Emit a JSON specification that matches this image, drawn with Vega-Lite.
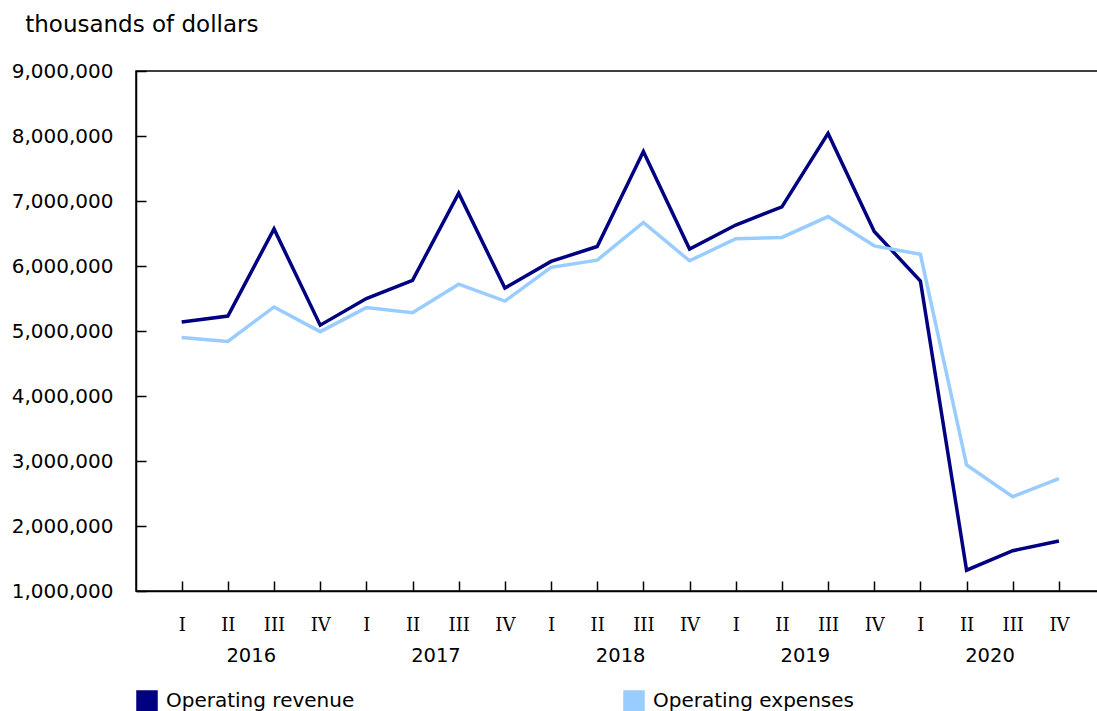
{
  "$schema": "https://vega.github.io/schema/vega-lite/v6.json",
  "width": 962,
  "height": 520,
  "padding": {"left": 11, "top": 14, "right": 0, "bottom": 0},
  "background": "white",
  "config": {
    "font": "DejaVu Sans",
    "view": {"stroke": "#000000", "strokeWidth": 1.5},
    "axis": {"labelColor": "#000000", "domainColor": "#000000", "tickColor": "#000000", "domainWidth": 1.5, "tickWidth": 1.5, "grid": false, "title": null}
  },
  "title": {
    "text": "thousands of dollars",
    "anchor": "start",
    "frame": "bounds",
    "fontSize": 23,
    "fontWeight": "normal",
    "color": "#000000",
    "dx": 14,
    "offset": 24
  },
  "data": {
    "values": [
      {"period": "2016 I", "year": "2016", "Operating revenue": 5140000, "Operating expenses": 4900000},
      {"period": "2016 II", "year": "2016", "Operating revenue": 5230000, "Operating expenses": 4840000},
      {"period": "2016 III", "year": "2016", "Operating revenue": 6570000, "Operating expenses": 5370000},
      {"period": "2016 IV", "year": "2016", "Operating revenue": 5090000, "Operating expenses": 4990000},
      {"period": "2017 I", "year": "2017", "Operating revenue": 5500000, "Operating expenses": 5360000},
      {"period": "2017 II", "year": "2017", "Operating revenue": 5780000, "Operating expenses": 5280000},
      {"period": "2017 III", "year": "2017", "Operating revenue": 7120000, "Operating expenses": 5720000},
      {"period": "2017 IV", "year": "2017", "Operating revenue": 5660000, "Operating expenses": 5460000},
      {"period": "2018 I", "year": "2018", "Operating revenue": 6070000, "Operating expenses": 5980000},
      {"period": "2018 II", "year": "2018", "Operating revenue": 6300000, "Operating expenses": 6090000},
      {"period": "2018 III", "year": "2018", "Operating revenue": 7760000, "Operating expenses": 6670000},
      {"period": "2018 IV", "year": "2018", "Operating revenue": 6260000, "Operating expenses": 6080000},
      {"period": "2019 I", "year": "2019", "Operating revenue": 6630000, "Operating expenses": 6420000},
      {"period": "2019 II", "year": "2019", "Operating revenue": 6910000, "Operating expenses": 6440000},
      {"period": "2019 III", "year": "2019", "Operating revenue": 8040000, "Operating expenses": 6760000},
      {"period": "2019 IV", "year": "2019", "Operating revenue": 6530000, "Operating expenses": 6310000},
      {"period": "2020 I", "year": "2020", "Operating revenue": 5770000, "Operating expenses": 6180000},
      {"period": "2020 II", "year": "2020", "Operating revenue": 1320000, "Operating expenses": 2940000},
      {"period": "2020 III", "year": "2020", "Operating revenue": 1620000, "Operating expenses": 2450000},
      {"period": "2020 IV", "year": "2020", "Operating revenue": 1770000, "Operating expenses": 2730000}
    ]
  },
  "layer": [
    {
      "transform": [{"fold": ["Operating revenue", "Operating expenses"], "as": ["series", "value"]}],
      "mark": {"type": "line", "strokeWidth": 3.5, "strokeJoin": "miter"},
      "encoding": {
        "x": {
          "field": "period",
          "type": "ordinal",
          "sort": null,
          "scale": {"type": "point", "padding": 0.918, "align": 0.539},
          "axis": {
            "orient": "bottom",
            "labelAngle": 0,
            "labelExpr": "split(datum.value, ' ')[1]",
            "labelFont": "DejaVu Serif",
            "labelFontSize": 18,
            "tickSize": -10,
            "labelPadding": 35
          }
        },
        "y": {
          "field": "value",
          "type": "quantitative",
          "scale": {"domain": [1000000, 9000000], "nice": false, "zero": false},
          "axis": {
            "values": [1000000, 2000000, 3000000, 4000000, 5000000, 6000000, 7000000, 8000000, 9000000],
            "format": ",d",
            "labelFontSize": 20,
            "tickSize": -10,
            "labelPadding": 33
          }
        },
        "color": {
          "field": "series",
          "type": "nominal",
          "scale": {"domain": ["Operating revenue", "Operating expenses"], "range": ["#000080", "#99ccff"]},
          "legend": {
            "title": null,
            "orient": "none",
            "legendX": 0,
            "legendY": 619,
            "direction": "horizontal",
            "symbolType": "square",
            "symbolSize": 400,
            "symbolStrokeWidth": 1.5,
            "symbolStrokeColor": "#000000",
            "labelFontSize": 20,
            "labelColor": "#000000",
            "labelOffset": 8,
            "columnPadding": 266,
            "labelLimit": 400,
            "encode": {
              "symbols": {"update": {"fill": {"scale": "color", "field": "value"}, "stroke": {"value": "#000000"}, "strokeWidth": {"value": 1.5}, "opacity": {"value": 1}}}
            }
          }
        }
      }
    },
    {
      "mark": {"type": "text", "text": "", "opacity": 0},
      "encoding": {
        "x": {
          "field": "year",
          "type": "ordinal",
          "scale": {"type": "point", "padding": 0.6045, "align": 0.514},
          "axis": {
            "orient": "bottom",
            "labelAngle": 0,
            "labelFontSize": 19.5,
            "ticks": false,
            "domain": false,
            "labelPadding": 55
          }
        }
      }
    }
  ],
  "resolve": {"scale": {"x": "independent"}, "axis": {"x": "independent"}}
}
